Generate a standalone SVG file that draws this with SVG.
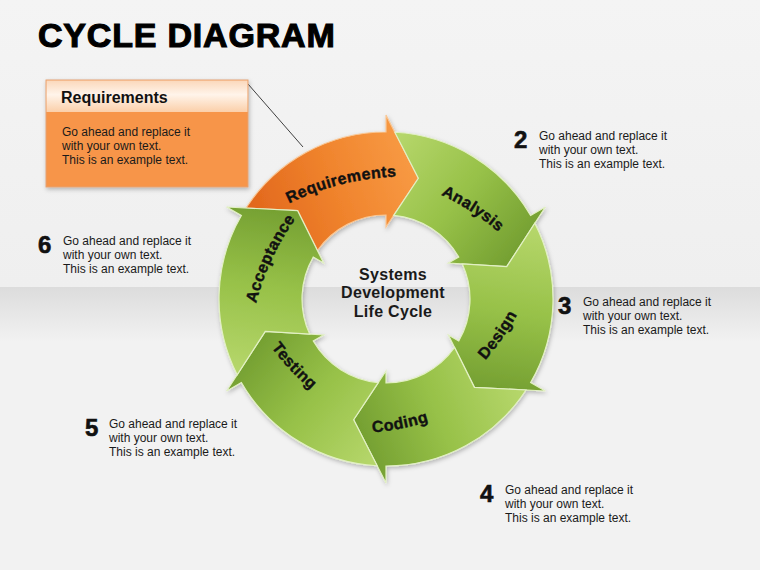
<svg xmlns="http://www.w3.org/2000/svg" xmlns:xlink="http://www.w3.org/1999/xlink" width="760" height="570" viewBox="0 0 760 570">
<defs>
  <linearGradient id="bgTop" x1="0" y1="0" x2="0" y2="1">
    <stop offset="0" stop-color="#f4f4f4"/>
    <stop offset="1" stop-color="#efefef"/>
  </linearGradient>
  <linearGradient id="bgBand" x1="0" y1="0" x2="0" y2="1">
    <stop offset="0" stop-color="#dcdcdc"/>
    <stop offset="1" stop-color="#f2f2f2"/>
  </linearGradient>
  <linearGradient id="gGreen" gradientUnits="userSpaceOnUse" x1="70" y1="-125" x2="130" y2="35">
    <stop offset="0" stop-color="#b5d66a"/>
    <stop offset="0.5" stop-color="#97c148"/>
    <stop offset="1" stop-color="#729d30"/>
  </linearGradient>
  <linearGradient id="gOrange" gradientUnits="userSpaceOnUse" x1="70" y1="-125" x2="130" y2="35">
    <stop offset="0" stop-color="#e2681d"/>
    <stop offset="0.5" stop-color="#f0842d"/>
    <stop offset="1" stop-color="#f89b45"/>
  </linearGradient>
  <linearGradient id="hdr" x1="0" y1="0" x2="0" y2="1">
    <stop offset="0" stop-color="#fbd8bb"/>
    <stop offset="0.45" stop-color="#fff4ea"/>
    <stop offset="1" stop-color="#fbcfa9"/>
  </linearGradient>
  <filter id="shadow" x="-20%" y="-20%" width="140%" height="140%">
    <feDropShadow dx="1" dy="2" stdDeviation="2" flood-color="#000" flood-opacity="0.25"/>
  </filter>
  <path id="arrowShape" d="M91.01,-140.02 A167,167 0 0 1 167,0 L184,0 L120.74,32.35 L72,0 L84,0 A84,84 0 0 0 48.52,-68.57 L88.39,-88.39 Z"/>
  <path id="frown" d="M-80,18.1 A260,260 0 0 1 80,18.1"/>
  <path id="smile" d="M-80,-7.1 A260,260 0 0 0 80,-7.1"/>
  <style>
    .title{font-family:"Liberation Sans",Arial,sans-serif;font-weight:bold;font-size:34px;letter-spacing:0.8px;fill:#000;stroke:#000;stroke-width:1.1px}
    .num{font-family:"Liberation Sans",Arial,sans-serif;font-weight:bold;font-size:24px;fill:#111;stroke:#111;stroke-width:0.6px}
    .body{font-family:"Liberation Sans",Arial,sans-serif;font-size:12px;fill:#1a1a1a}
    .lbl{font-family:"Liberation Sans",Arial,sans-serif;font-weight:bold;font-size:16px;letter-spacing:0.4px;fill:#111;stroke:#111;stroke-width:0.4px;text-anchor:middle}
    .center{font-family:"Liberation Sans",Arial,sans-serif;font-weight:bold;font-size:16px;letter-spacing:0.3px;fill:#1a1a1a;text-anchor:middle}
    .green{fill:url(#gGreen);stroke:#e2f0c4;stroke-width:1.2}
    .orange{fill:url(#gOrange);stroke:#f9c795;stroke-width:1.2}
    .hdrtxt{font-family:"Liberation Sans",Arial,sans-serif;font-weight:bold;font-size:16px;fill:#111}
  </style>
</defs>

<rect x="0" y="0" width="760" height="287" fill="url(#bgTop)"/>
<rect x="0" y="287" width="760" height="55" fill="url(#bgBand)"/>
<rect x="0" y="342" width="760" height="228" fill="#f2f2f2"/>

<text class="title" x="38" y="47">CYCLE DIAGRAM</text>

<g id="connectors">
  <line x1="248" y1="84" x2="303" y2="147" stroke="#404040" stroke-width="1"/>
</g>

<g id="callout">
  <rect x="46" y="80" width="202" height="107" fill="#f7954a" stroke="#e3a275" stroke-width="1" filter="url(#shadow)"/>
  <rect x="46.5" y="80.5" width="201" height="31.5" fill="url(#hdr)"/>
  <text class="hdrtxt" x="61" y="103">Requirements</text>
  <text class="body" x="62" y="136">Go ahead and replace it</text>
  <text class="body" x="62" y="150">with your own text.</text>
  <text class="body" x="62" y="164">This is an example text.</text>
</g>

<g id="cycle" filter="url(#shadow)">
  <g id="node-requirements">
    <use href="#arrowShape" xlink:href="#arrowShape" class="orange" transform="translate(386,299) rotate(-90)"/>
  </g>
  <g id="node-analysis">
    <use href="#arrowShape" xlink:href="#arrowShape" class="green" transform="translate(386,299) rotate(-30)"/>
  </g>
  <g id="node-design">
    <use href="#arrowShape" xlink:href="#arrowShape" class="green" transform="translate(386,299) rotate(30)"/>
  </g>
  <g id="node-coding">
    <use href="#arrowShape" xlink:href="#arrowShape" class="green" transform="translate(386,299) rotate(90)"/>
  </g>
  <g id="node-testing">
    <use href="#arrowShape" xlink:href="#arrowShape" class="green" transform="translate(386,299) rotate(150)"/>
  </g>
  <g id="node-acceptance">
    <use href="#arrowShape" xlink:href="#arrowShape" class="green" transform="translate(386,299) rotate(210)"/>
  </g>
</g>

<g id="labels">
  <text class="lbl" transform="translate(340,179) rotate(-14)"><textPath href="#frown" xlink:href="#frown" startOffset="50%">Requirements</textPath></text>
  <text class="lbl" transform="translate(474,207) rotate(33)"><textPath href="#frown" xlink:href="#frown" startOffset="50%">Analysis</textPath></text>
  <text class="lbl" transform="translate(267,257) rotate(-65)"><textPath href="#frown" xlink:href="#frown" startOffset="50%">Acceptance</textPath></text>
  <text class="lbl" transform="translate(498,335) rotate(-55)"><textPath href="#smile" xlink:href="#smile" startOffset="50%">Design</textPath></text>
  <text class="lbl" transform="translate(400,423) rotate(-11)"><textPath href="#smile" xlink:href="#smile" startOffset="50%">Coding</textPath></text>
  <text class="lbl" transform="translate(294,366) rotate(47)"><textPath href="#smile" xlink:href="#smile" startOffset="50%">Testing</textPath></text>
</g>

<g id="node-center">
  <text class="center" x="393" y="280">Systems</text>
  <text class="center" x="393" y="298">Development</text>
  <text class="center" x="393" y="317">Life Cycle</text>
</g>

<g id="note-2">
  <text class="num" x="514" y="148">2</text>
  <text class="body" x="539" y="140">Go ahead and replace it</text>
  <text class="body" x="539" y="154">with your own text.</text>
  <text class="body" x="539" y="168">This is an example text.</text>
</g>
<g id="note-3">
  <text class="num" x="558" y="314">3</text>
  <text class="body" x="583" y="306">Go ahead and replace it</text>
  <text class="body" x="583" y="320">with your own text.</text>
  <text class="body" x="583" y="334">This is an example text.</text>
</g>
<g id="note-4">
  <text class="num" x="480" y="502">4</text>
  <text class="body" x="505" y="494">Go ahead and replace it</text>
  <text class="body" x="505" y="508">with your own text.</text>
  <text class="body" x="505" y="522">This is an example text.</text>
</g>
<g id="note-5">
  <text class="num" x="85" y="436">5</text>
  <text class="body" x="109" y="428">Go ahead and replace it</text>
  <text class="body" x="109" y="442">with your own text.</text>
  <text class="body" x="109" y="456">This is an example text.</text>
</g>
<g id="note-6">
  <text class="num" x="38" y="253">6</text>
  <text class="body" x="63" y="245">Go ahead and replace it</text>
  <text class="body" x="63" y="259">with your own text.</text>
  <text class="body" x="63" y="273">This is an example text.</text>
</g>
</svg>
